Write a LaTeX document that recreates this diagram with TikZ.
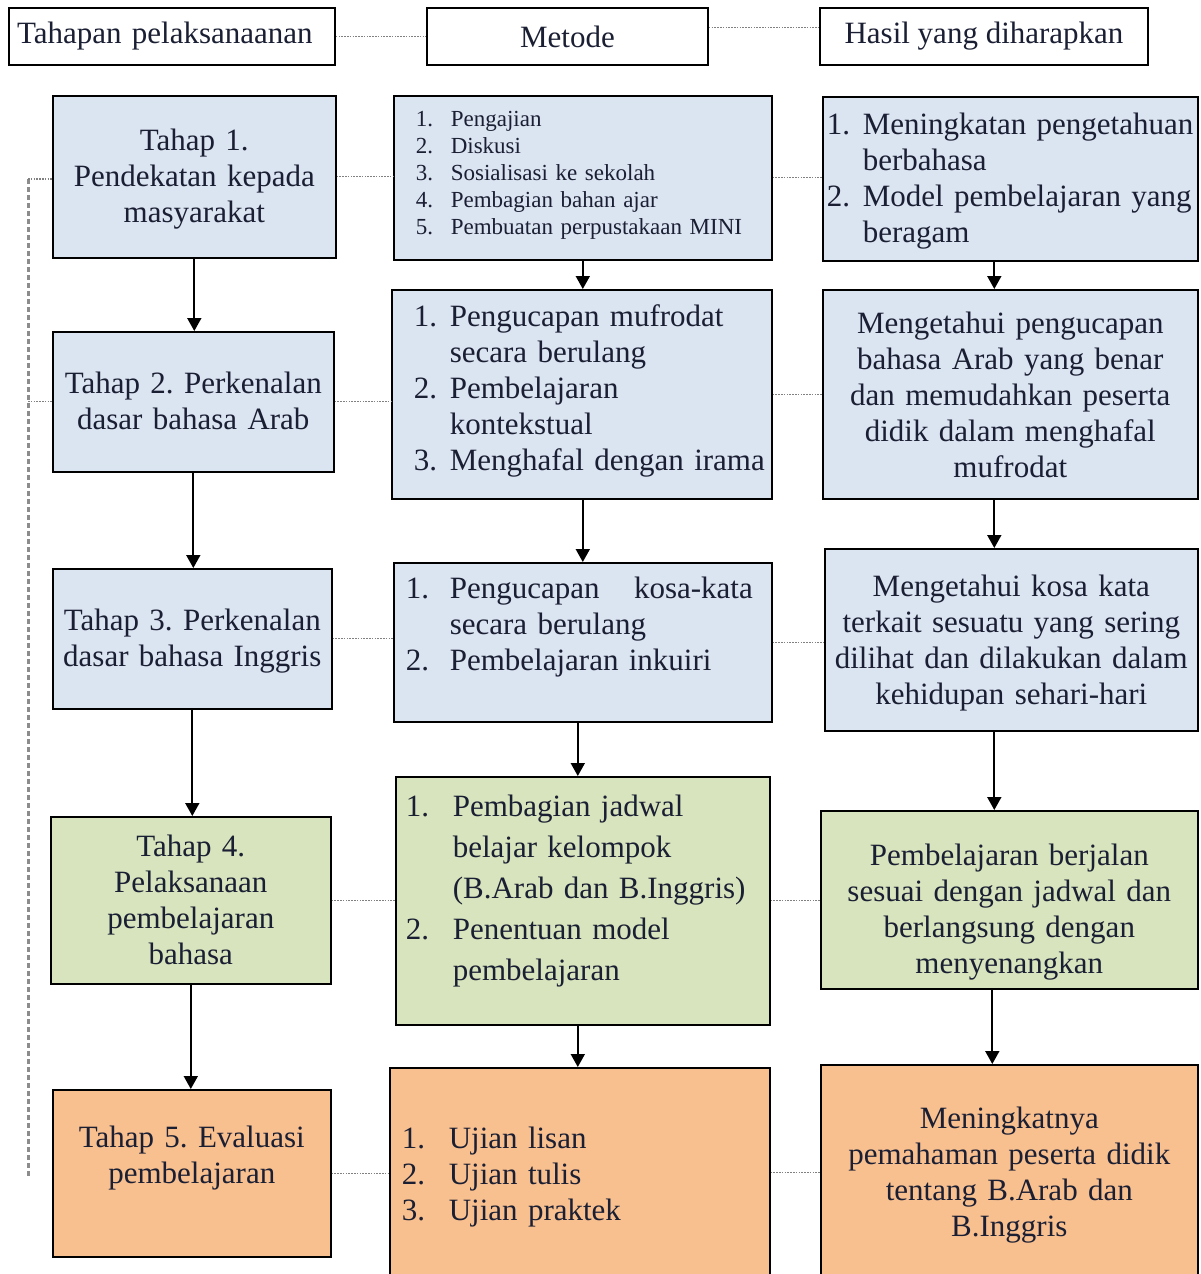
\documentclass[tikz,border=0pt]{standalone}
\usepackage{fontspec}
\setmainfont{Liberation Serif}
\usetikzlibrary{arrows.meta,calc}
\frenchspacing

\definecolor{ink}{HTML}{1B1F33}
\definecolor{fillblue}{HTML}{DBE4F1}
\definecolor{fillgreen}{HTML}{D7E4BD}
\definecolor{fillorange}{HTML}{F8BF8F}

\tikzset{
  cell/.style={draw=black, line width=1.6pt, inner sep=0pt, anchor=north west, text=ink,
    font=\fontsize{31}{36}\selectfont, execute at begin node={\setlength{\parindent}{0pt}}},
  head/.style={cell, anchor=center, minimum height=57pt},
  rowblue/.style={cell, fill=fillblue},
  rowgreen/.style={cell, fill=fillgreen},
  roworange/.style={cell, fill=fillorange},
  flow/.style={draw=black, line width=1.8pt, -{Triangle[width=14pt,length=13pt]}},
  link/.style={draw=gray, line width=1.2pt, dash pattern=on 1.6pt off 1.2pt},
  side/.style={draw=gray!90, line width=3pt, dash pattern=on 5pt off 3pt}
}

\begin{document}
\begin{tikzpicture}[x=1pt,y=-1pt]
\useasboundingbox (0,0) rectangle (1201,1274);
\clip (0,0) rectangle (1201,1274);

% judul kolom
\node[head, text width=310pt, inner xsep=8pt, align=left] (h1) at (172,36.5) {Tahapan pelaksanaanan};
\node[head, minimum width=281pt] (h2) at (567.5,36.5) {Metode};
\node[head, minimum width=328pt] (h3) at (984,36.5) {Hasil yang diharapkan};

% kolom tahapan
\node[rowblue, text width=283pt, align=center, text height=55pt, text depth=107pt] (a1) at (52,95)
  {Tahap 1.\\Pendekatan kepada\\masyarakat};
\node[rowblue, text width=281pt, align=center, text height=62pt, text depth=78pt] (a2) at (52,331)
  {Tahap 2. Perkenalan\\dasar bahasa Arab};
\node[rowblue, text width=279pt, align=center, text height=62pt, text depth=78pt] (a3) at (52,568)
  {Tahap 3. Perkenalan\\dasar bahasa Inggris};
\node[rowgreen, text width=280pt, align=center, text height=40pt, text depth=127pt] (a4) at (50,816)
  {Tahap 4.\\Pelaksanaan\\pembelajaran\\bahasa};
\node[roworange, text width=278pt, align=center, text height=58pt, text depth=109pt] (a5) at (52,1089)
  {Tahap 5. Evaluasi\\pembelajaran};

% kolom metode
\node[rowblue, text width=378pt, align=left, text height=31pt, text depth=133pt,
  font=\fontsize{23}{27}\selectfont] (m1) at (393,95)
  {\hspace*{22pt}\begin{tabular}[t]{@{}p{35pt}@{}l@{}}
  1. & Pengajian\\
  2. & Diskusi\\
  3. & Sosialisasi ke sekolah\\
  4. & Pembagian bahan ajar\\
  5. & Pembuatan perpustakaan MINI
  \end{tabular}};
\node[rowblue, text width=380pt, align=left, text height=37pt, text depth=172pt] (m2) at (391,289)
  {\hspace*{22pt}\begin{tabular}[t]{@{}p{36pt}@{}l@{}}
  1. & Pengucapan mufrodat\\
     & secara berulang\\
  2. & Pembelajaran\\
     & kontekstual\\
  3. & Menghafal dengan irama
  \end{tabular}};
\node[rowblue, text width=378pt, align=left, text height=36pt, text depth=123pt] (m3) at (393,562)
  {\hspace*{12pt}\begin{tabular}[t]{@{}p{44pt}@{}l@{}}
  1. & \makebox[303pt][s]{Pengucapan\hfill kosa-kata}\\
     & secara berulang\\
  2. & Pembelajaran inkuiri
  \end{tabular}};
\node[rowgreen, text width=374pt, align=left, text height=40pt, text depth=208pt] (m4) at (395,776)
  {\fontsize{31}{41}\selectfont\hspace*{10pt}\begin{tabular}[t]{@{}p{47pt}@{}l@{}}
  1. & Pembagian jadwal\\
     & belajar kelompok\\
     & (B.Arab dan B.Inggris)\\
  2. & Penentuan model\\
     & pembelajaran
  \end{tabular}};
\node[roworange, text width=380pt, align=left, text height=81pt, text depth=129pt] (m5) at (389,1067)
  {\hspace*{12pt}\begin{tabular}[t]{@{}p{47pt}@{}l@{}}
  1. & Ujian lisan\\
  2. & Ujian tulis\\
  3. & Ujian praktek
  \end{tabular}};

% kolom hasil
\node[rowblue, text width=375pt, align=left, text height=38pt, text depth=126pt] (r1) at (822,96)
  {\hspace*{4pt}\begin{tabular}[t]{@{}p{36pt}@{}l@{}}
  1. & Meningkatan pengetahuan\\
     & berbahasa\\
  2. & Model pembelajaran yang\\
     & beragam
  \end{tabular}};
\node[rowblue, text width=375pt, align=center, text height=44pt, text depth=165pt] (r2) at (822,289)
  {Mengetahui pengucapan\\bahasa Arab yang benar\\dan memudahkan peserta\\didik dalam menghafal\\mufrodat};
\node[rowblue, text width=373pt, align=center, text height=48pt, text depth=134pt] (r3) at (824,548)
  {Mengetahui kosa kata\\terkait sesuatu yang sering\\dilihat dan dilakukan dalam\\kehidupan sehari-hari};
\node[rowgreen, text width=377pt, align=center, text height=55pt, text depth=123pt] (r4) at (820,810)
  {Pembelajaran berjalan\\sesuai dengan jadwal dan\\berlangsung dengan\\menyenangkan};
\node[roworange, text width=377pt, align=center, text height=64pt, text depth=152pt] (r5) at (820,1064)
  {Meningkatnya\\pemahaman peserta didik\\tentang B.Arab dan\\B.Inggris};

% garis titik antar kolom
\draw[link] (h1) -- (h2);
\draw[link] ([yshift=9pt]h2.east) -- ([yshift=9pt]h2.east -| h3.west);
\foreach \r in {1,...,5}{
  \draw[link] (a\r.east) -- (a\r.east -| m\r.west);
  \draw[link] (m\r.east) -- (m\r.east -| r\r.west);
}

% panah alur
\foreach \u/\v in {1/2,2/3,3/4,4/5}
  \draw[flow] (a\u.south) -- (a\u.south |- a\v.north);
\foreach \u/\v/\s in {1/2/0pt,2/3/1pt,3/4/-5pt,4/5/-5pt}
  \draw[flow] ([xshift=\s]m\u.south) -- ([xshift=\s]m\u.south |- m\v.north);
\foreach \u/\v/\s in {1/2/-16pt,2/3/-16pt,3/4/-17pt,4/5/-17pt}
  \draw[flow] ([xshift=\s]r\u.south) -- ([xshift=\s]r\u.south |- r\v.north);

% garis putus kiri
\coordinate (st) at (28,179);
\coordinate (sb) at (28,1176);
\draw[side] (st) -- (sb);
\draw[link] (st) -- (st -| a1.west);
\draw[link] (st |- a2.west) -- (a2.west);
\end{tikzpicture}
\end{document}
